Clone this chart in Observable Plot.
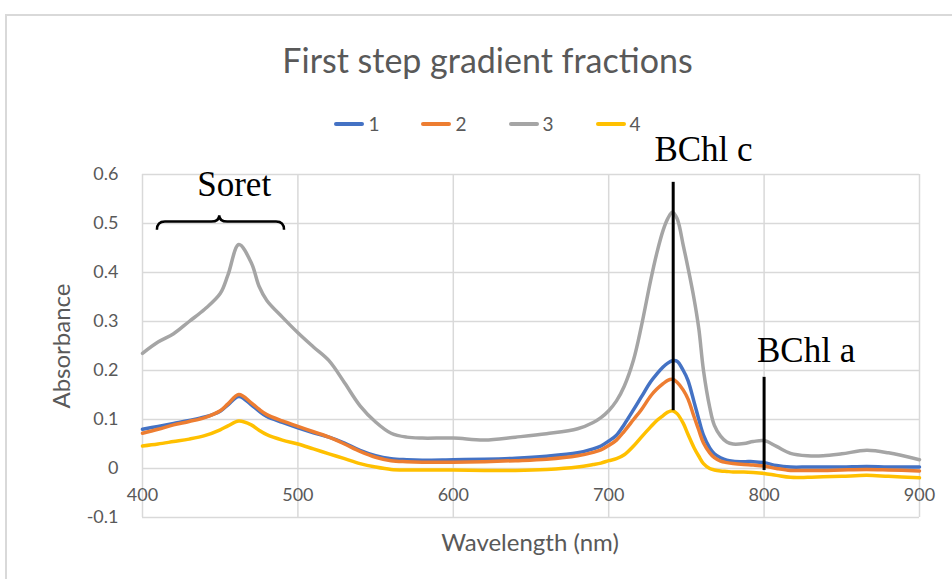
<!DOCTYPE html>
<html>
<head>
<meta charset="utf-8">
<script src="https://cdn.jsdelivr.net/npm/d3@7"></script>
<script src="https://cdn.jsdelivr.net/npm/@observablehq/plot@0.6"></script>
<style>
  html, body { margin: 0; padding: 0; background: #fff; }
  body { width: 952px; height: 579px; position: relative; overflow: hidden; font-family: Lato, "Open Sans", sans-serif; }
  #frame { position: absolute; left: 5px; top: 14px; width: 970px; height: 600px; border: 2px solid #d9d9d9; box-sizing: border-box; }
  #title { position: absolute; left: 0; width: 975px; top: 40px; text-align: center; font-size: 34px; color: #595959; line-height: 40px; }
  #legend { position: absolute; left: 0; width: 975px; top: 113px; display: flex; justify-content: center; font-size: 19px; color: #595959; line-height: 22px; }
  .item { display: flex; align-items: center; margin: 0 21px; }
  .sw { width: 30px; height: 4px; margin-right: 4px; border-radius: 2px; }
  #ylab { position: absolute; left: 60px; top: 346px; transform: translate(-50%, -50%) rotate(-90deg); font-size: 24px; color: #595959; white-space: nowrap; }
  #xlab { position: absolute; left: 530px; top: 541px; transform: translate(-50%, -50%); font-size: 24px; color: #595959; white-space: nowrap; }
  #chart { position: absolute; left: 0; top: 130px; }
</style>
</head>
<body>
<div id="frame"></div>
<div id="title">First step gradient fractions</div>
<div id="legend"></div>
<div id="chart"></div>
<div id="ylab">Absorbance</div>
<div id="xlab">Wavelength (nm)</div>
<script>
const wavelengths = [400,410,420,430,440,450,455,462,470,475,480,490,500,510,520,530,540,550,560,570,580,600,620,640,660,680,690,695,700,705,710,716,721,727,731,735,738,741,744,748,751,755,758,761,765,768,772,776,780,787,793,800,808,817,828,838,850,866,880,900];

const series1 = [0.080,0.086,0.092,0.098,0.105,0.117,0.130,0.147,0.130,0.117,0.106,0.094,0.083,0.073,0.064,0.052,0.037,0.026,0.020,0.018,0.017,0.018,0.019,0.021,0.025,0.032,0.040,0.046,0.056,0.068,0.090,0.120,0.146,0.177,0.193,0.207,0.215,0.220,0.219,0.200,0.180,0.135,0.100,0.068,0.042,0.030,0.022,0.017,0.015,0.014,0.014,0.012,0.006,0.003,0.003,0.003,0.003,0.004,0.003,0.003];

const series2 = [0.072,0.080,0.089,0.096,0.104,0.118,0.132,0.151,0.134,0.121,0.110,0.097,0.086,0.075,0.064,0.050,0.035,0.023,0.016,0.014,0.013,0.013,0.014,0.016,0.019,0.026,0.033,0.038,0.047,0.058,0.076,0.100,0.120,0.148,0.162,0.173,0.180,0.182,0.176,0.160,0.142,0.105,0.078,0.052,0.032,0.022,0.015,0.012,0.010,0.008,0.007,0.005,0.000,-0.004,-0.004,-0.004,-0.003,-0.002,-0.003,-0.005];

const series3 = [0.235,0.258,0.275,0.300,0.325,0.357,0.395,0.457,0.420,0.372,0.343,0.309,0.277,0.248,0.220,0.175,0.128,0.095,0.072,0.064,0.062,0.062,0.058,0.064,0.071,0.081,0.094,0.104,0.118,0.138,0.168,0.222,0.290,0.384,0.440,0.486,0.510,0.523,0.510,0.455,0.410,0.345,0.285,0.200,0.125,0.088,0.066,0.054,0.050,0.051,0.055,0.057,0.045,0.031,0.026,0.026,0.030,0.037,0.032,0.018];

const series4 = [0.046,0.050,0.055,0.060,0.067,0.079,0.087,0.097,0.089,0.078,0.069,0.058,0.050,0.040,0.030,0.020,0.010,0.003,-0.002,-0.003,-0.003,-0.003,-0.004,-0.004,-0.002,0.003,0.008,0.011,0.016,0.020,0.028,0.046,0.064,0.085,0.098,0.108,0.115,0.118,0.112,0.092,0.070,0.042,0.025,0.010,0.000,-0.003,-0.005,-0.006,-0.007,-0.007,-0.008,-0.010,-0.014,-0.018,-0.018,-0.017,-0.016,-0.014,-0.016,-0.019];

const seriesNames = ["1", "2", "3", "4"];
const seriesColors = ["#4472C4", "#ED7D31", "#A5A5A5", "#FFC000"];
const allSeries = [series1, series2, series3, series4];

const xTicks = [400, 500, 600, 700, 800, 900];
const yTicks = [-0.1, 0, 0.1, 0.2, 0.3, 0.4, 0.5, 0.6];
const yTickLabels = ["-0.1", "0", "0.1", "0.2", "0.3", "0.4", "0.5", "0.6"];

// annotations
const annotLabels = ["Soret", "BChl c", "BChl a"];
const annotLabelX = [459, 761, 827];
const annotLabelY = [0.557, 0.627, 0.218];
const annotRuleX = [741.5, 800];
const annotRuleTop = [0.584, 0.186];
const annotRuleBottom = [0.118, -0.004];
const braceX = [409.6, 449.7, 491.4];      // left end, tip, right end
const braceY = [0.486, 0.503, 0.516];      // ends, bar, tip

// legend
const legend = document.getElementById("legend");
seriesNames.forEach((n, i) => {
  const it = document.createElement("div");
  it.className = "item";
  it.innerHTML = `<span class="sw" style="background:${seriesColors[i]}"></span><span>${n}</span>`;
  legend.appendChild(it);
});

const lineData = allSeries.map((vals, i) => wavelengths.map((w, j) => ({w, v: vals[j], s: seriesNames[i]})));

function braceMark(index, {x, y}) {
  const x0 = x(braceX[0]), xm = x(braceX[1]), x1 = x(braceX[2]);
  const ye = y(braceY[0]), yb = y(braceY[1]), yt = y(braceY[2]);
  const r = 8;
  const d = `M${x0},${ye} Q${x0},${yb} ${x0 + r},${yb} L${xm - r},${yb} Q${xm},${yb} ${xm},${yt} Q${xm},${yb} ${xm + r},${yb} L${x1 - r},${yb} Q${x1},${yb} ${x1},${ye}`;
  return d3.create("svg:path").attr("d", d).attr("fill", "none").attr("stroke", "black").attr("stroke-width", 2.5).node();
}

const annots = annotLabels.map((t, i) => ({t, x: annotLabelX[i], y: annotLabelY[i]}));
const rules = annotRuleX.map((x, i) => ({x, y1: annotRuleTop[i], y2: annotRuleBottom[i]}));

const chart = Plot.plot({
  width: 952,
  height: 449,
  marginTop: 44,
  marginBottom: 62,
  marginLeft: 142,
  marginRight: 33,
  style: {background: "transparent", overflow: "visible", fontFamily: "Lato, 'Open Sans', sans-serif"},
  x: {domain: [400, 900], axis: null},
  y: {domain: [-0.1, 0.6], axis: null},
  marks: [
    Plot.ruleY(yTicks, {stroke: "#d9d9d9", strokeWidth: 1.5}),
    Plot.ruleX(xTicks, {stroke: "#d9d9d9", strokeWidth: 1.5}),
    Plot.text(yTicks, {y: d => d, frameAnchor: "left", dx: -24, textAnchor: "end", text: d => yTickLabels[yTicks.indexOf(d)], fontSize: 18, fill: "#595959"}),
    Plot.text(xTicks, {x: d => d, frameAnchor: "bottom", dy: -17, text: d => String(d), fontSize: 18, fill: "#595959"}),
    ...lineData.map((d, i) => Plot.line(d, {x: "w", y: "v", stroke: seriesColors[i], strokeWidth: 3.5, curve: "catmull-rom"})),
    Plot.ruleX(rules, {x: "x", y1: "y1", y2: "y2", stroke: "black", strokeWidth: 3}),
    braceMark,
    Plot.text(annots, {x: "x", y: "y", text: "t", lineAnchor: "bottom", fontSize: 35, fontFamily: "'Liberation Serif', 'Times New Roman', serif", fill: "black"})
  ]
});
document.getElementById("chart").appendChild(chart);
</script>
</body>
</html>
